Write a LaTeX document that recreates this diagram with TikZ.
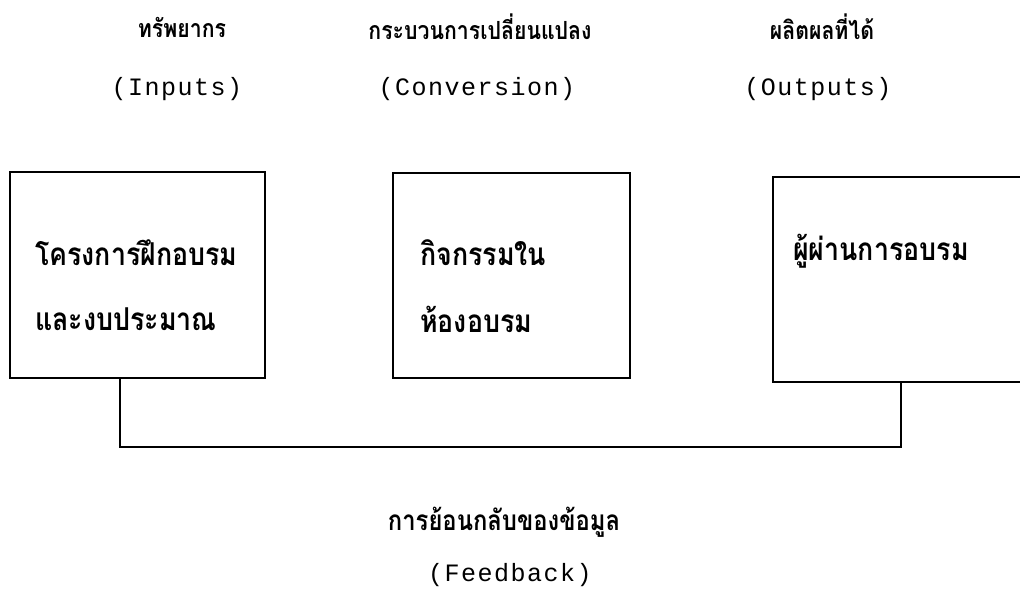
\documentclass[tikz,border=0pt]{standalone}
\usepackage{fontspec}
\newfontfamily\thaifont[Script=Thai,FakeStretch=0.85]{Loma}
\newfontfamily\latfont[LetterSpace=6]{Liberation Mono}
\begin{document}
\begin{tikzpicture}[x=1pt,y=-1pt,
  thai/.style={font=\thaifont\bfseries\fontsize{25}{28}\selectfont, inner sep=0pt},
  boxthai/.style={font=\thaifont\bfseries\fontsize{31.5}{34}\selectfont, inner sep=0pt},
  fbthai/.style={font=\thaifont\bfseries\fontsize{28}{32}\selectfont, inner sep=0pt},
  latin/.style={font=\latfont\fontsize{25}{28}\selectfont, inner sep=0pt},
  boxline/.style={draw, line width=1.5pt},
  link/.style={draw, line width=1.3pt}]
\useasboundingbox (0,0) rectangle (1020,594);
% headings
\node[thai] (h1) at (182,27) {ทรัพยากร};
\node[thai] (h2) at (480,27) {กระบวนการเปลี่ยนแปลง};
\node[thai] (h3) at (822,27) {ผลิตผลที่ได้};
\node[latin] (p1) at (177,89) {(Inputs)};
\node[latin] (p2) at (477,89) {(Conversion)};
\node[latin] (p3) at (818,89) {(Outputs)};
% boxes
\path[boxline] (10,172) rectangle (265,378);
\node[inner sep=0pt, minimum width=255pt, minimum height=206pt] (b1) at (137.5,275) {};
\path[boxline] (393,173) rectangle (630,378);
\node[inner sep=0pt, minimum width=237pt, minimum height=205pt] (b2) at (511.5,275.5) {};
\path[boxline] (773,177) rectangle (1024,382);
\node[inner sep=0pt, minimum width=251pt, minimum height=205pt] (b3) at (898.5,279.5) {};
% box texts
\node[boxthai, anchor=west] (t1a) at (35,253) {โครงการฝึกอบรม};
\node[boxthai, anchor=west] (t1b) at (35,319) {และงบประมาณ};
\node[boxthai, anchor=west] (t2a) at (420,253) {กิจกรรมใน};
\node[boxthai, anchor=west] (t2b) at (420,319) {ห้องอบรม};
\node[boxthai, anchor=west] (t3a) at (793,251) {ผู้ผ่านการอบรม};
% feedback loop
\coordinate (c1) at (120,447);
\coordinate (c2) at (901,447);
\draw[link] (b1.south -| c1) -- (c1) -- (c2) -- (b3.south -| c2);
% bottom labels
\node[fbthai] (f1) at (504,522) {การย้อนกลับของข้อมูล};
\node[latin] (f2) at (510,575) {(Feedback)};
\end{tikzpicture}
\end{document}
